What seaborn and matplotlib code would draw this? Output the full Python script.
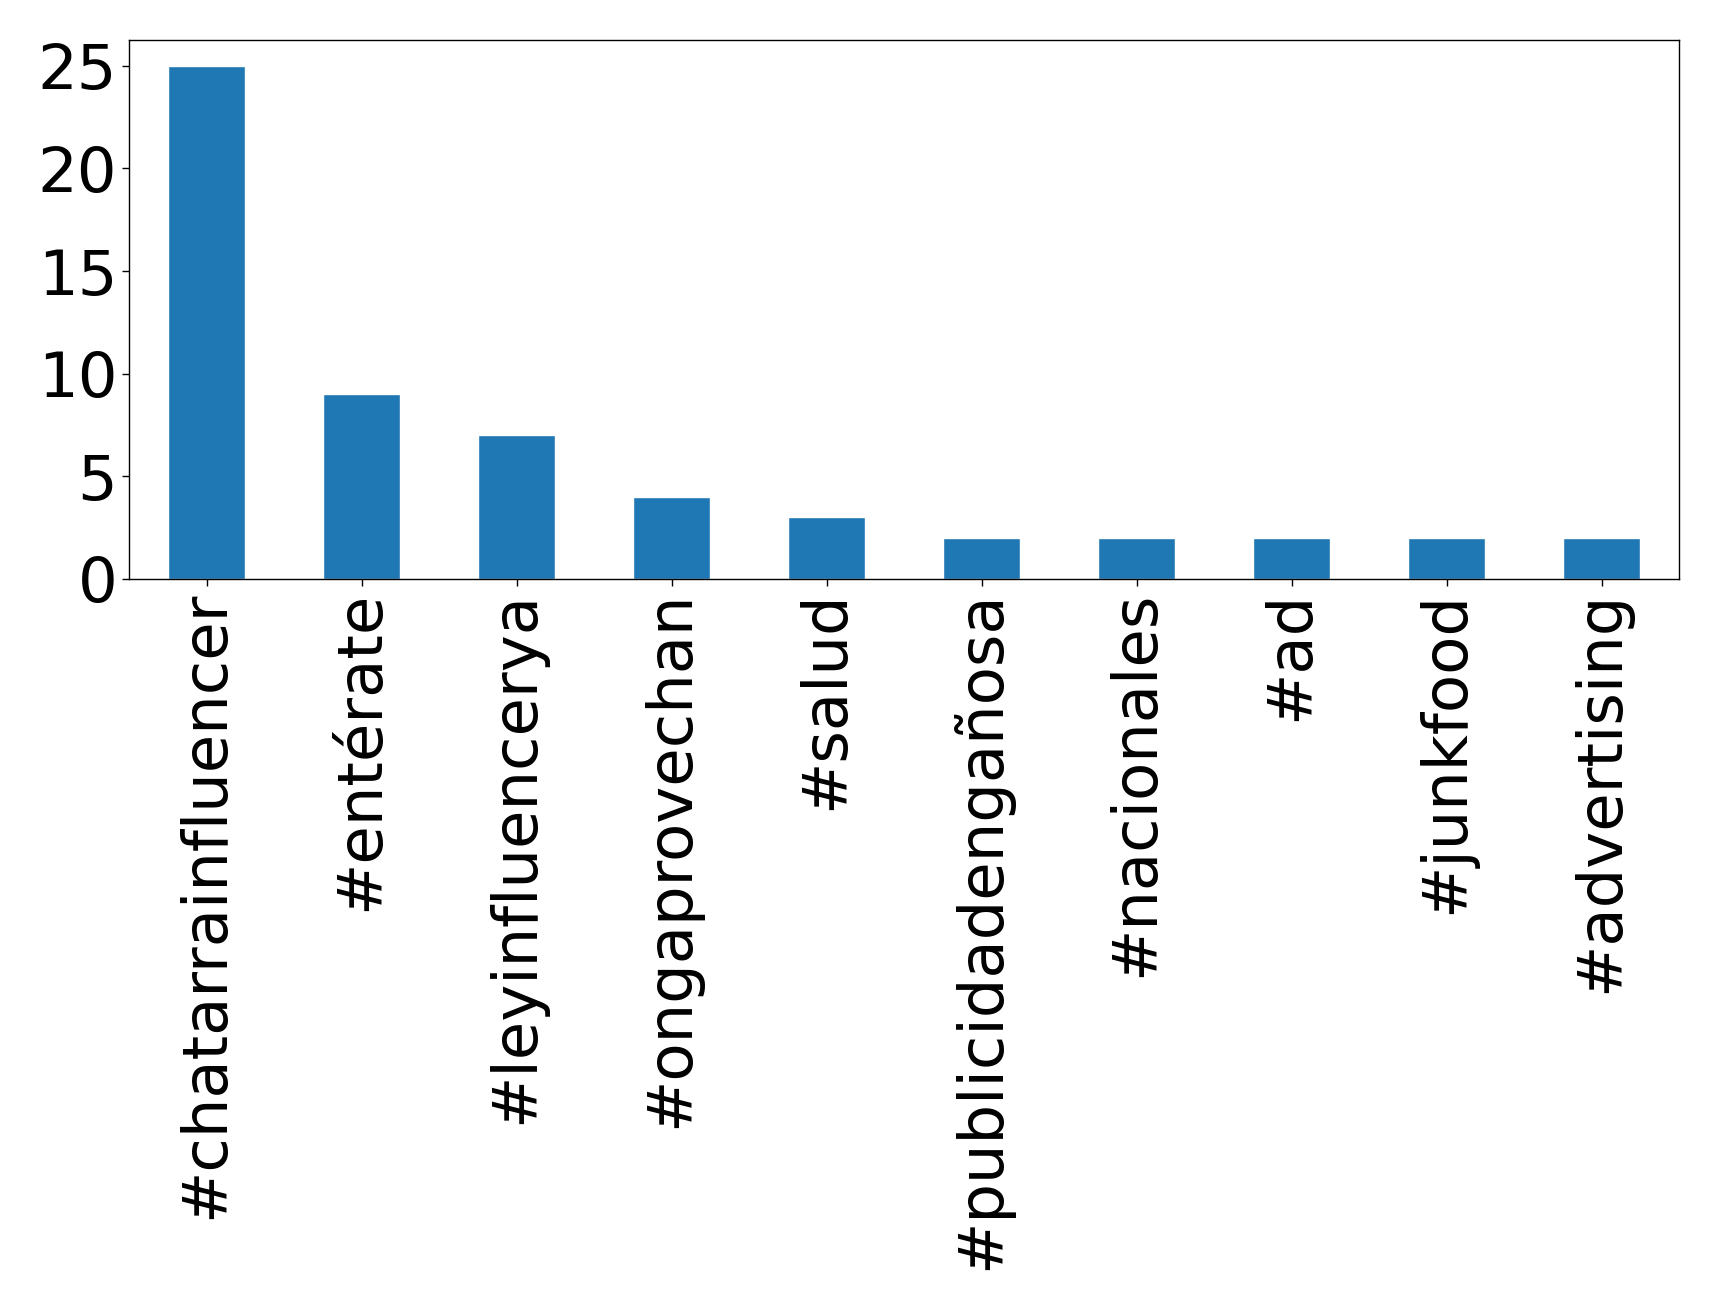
import matplotlib
matplotlib.use("Agg")
import matplotlib.pyplot as plt
import seaborn as sns
import pandas as pd

hashtags = ["#chatarrainfluencer", "#entérate", "#leyinfluencerya", "#ongaprovechan",
            "#salud", "#publicidadengañosa", "#nacionales", "#ad", "#junkfood",
            "#advertising"]
counts = [25, 9, 7, 4, 3, 2, 2, 2, 2, 2]

df = pd.DataFrame({"hashtag": hashtags, "count": counts})

sns.set_style("ticks")
plt.rcParams["font.family"] = ["DejaVu Sans"]

fig = plt.figure(figsize=(17.19, 13.08), dpi=100)
ax = fig.add_axes([129 / 1719, 1 - 579 / 1308, (1679 - 129) / 1719, (579 - 40) / 1308])

sns.barplot(data=df, x="hashtag", y="count", color="#1f77b4", saturation=1,
            width=0.5, ax=ax)

ax.set_xlim(-0.5, len(hashtags) - 0.5)
ax.set_ylim(0, 26.25)
ax.set_yticks([0, 5, 10, 15, 20, 25])
ax.set_xlabel("")
ax.set_ylabel("")
ax.tick_params(axis="both", labelsize=45, length=5, width=1, colors="black")
ax.tick_params(axis="x", labelrotation=90)
for s in ax.spines.values():
    s.set_visible(True)
    s.set_color("black")
    s.set_linewidth(1)

fig.savefig("out.png", dpi=100)
